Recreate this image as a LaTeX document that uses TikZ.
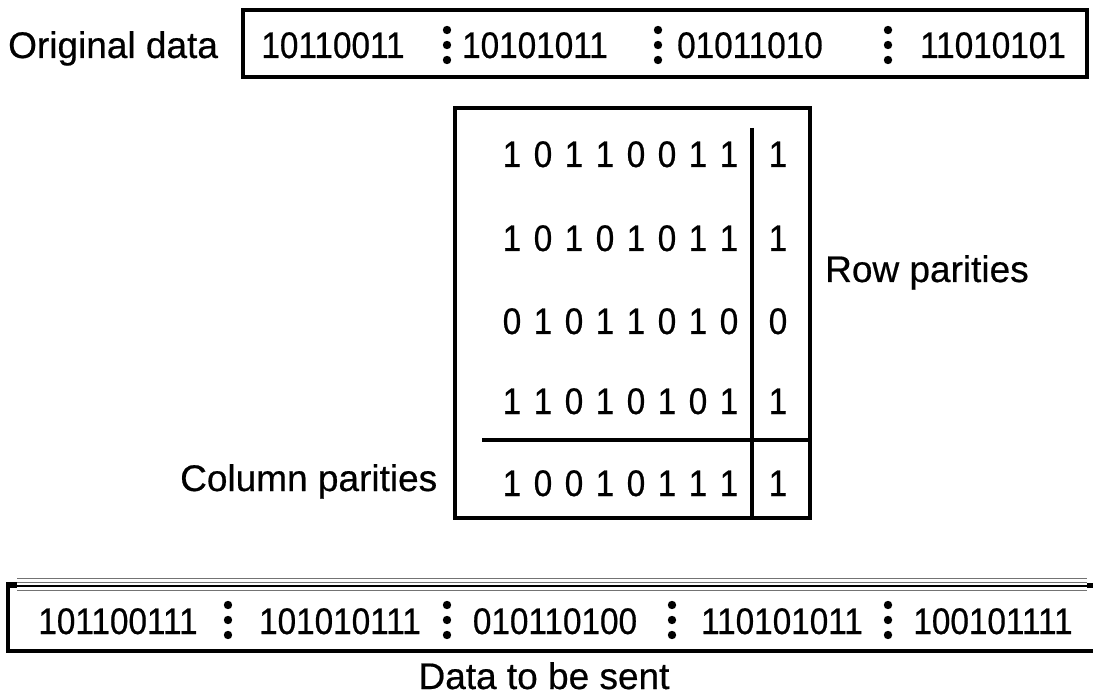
\documentclass[tikz,border=0pt]{standalone}
\usepackage{fontspec}
\setmainfont[FakeBold=0.5]{Liberation Sans}
\newfontfamily\digitfont[FakeStretch=0.9,FakeBold=0.6]{Liberation Sans}
\begin{document}
\begin{tikzpicture}[x=1pt,y=-1pt,
  lbl/.style={inner sep=0pt, anchor=base, font=\fontsize{37}{42}\selectfont},
  lblw/.style={lbl, anchor=base west},
  num/.style={inner sep=0pt, anchor=base, font=\fontsize{37}{42}\selectfont\digitfont},
  frame/.style={line width=4pt},
  thin/.style={line width=1pt, black!55}]
\useasboundingbox (0,0) rectangle (1093,695);

% three stacked dots used as group separators
\newcommand\sepdots[2]{%
  \fill (#1,#2-15) circle (4.2);
  \fill (#1,#2) circle (4.2);
  \fill (#1,#2+15) circle (4.2);}

% ---- original data ----
\node[lblw] (orig) at (8,58) {Original data};
\draw[frame] (243,10) rectangle (1087,77);
\node[num] (o1) at (333,58) {10110011};
\node[num] (o2) at (535,58) {10101011};
\node[num] (o3) at (750,58) {01011010};
\node[num] (o4) at (993,58) {11010101};
\sepdots{447}{45}
\sepdots{658}{45}
\sepdots{888}{45}

% ---- parity table ----
\draw[frame] (455,108) rectangle (810,518);
\draw[frame] (752,128) -- (752,518);
\draw[frame] (482,440) -- (810,440);
\foreach \r/\y/\bits/\p in {1/167/{1,0,1,1,0,0,1,1}/1,
                            2/251/{1,0,1,0,1,0,1,1}/1,
                            3/334/{0,1,0,1,1,0,1,0}/0,
                            4/414/{1,1,0,1,0,1,0,1}/1,
                            5/496/{1,0,0,1,0,1,1,1}/1}{
  \foreach \b [count=\i] in \bits {
    \node[num] (d\r-\i) at ({512+31*(\i-1)},\y) {\b};
  }
  \node[num] (p\r) at (778,\y) {\p};
}
\node[lblw] (rowpar) at (825,282) {Row parities};
\node[lblw] (colpar) at (180,491) {Column parities};

% ---- data to be sent ----
\draw[thin] (17,578) -- (1087,578);
\draw[thin] (17,582) -- (1087,582);
\draw[line width=1.8pt] (17,586) -- (1087,586);
\draw[thin] (17,590) -- (1087,590);
\fill (6,582) rectangle (17,588);
\fill (1087,583) rectangle (1093,588);
\draw[line width=4pt] (8,582) -- (8,651) -- (1093,651);
\node[num] (s1) at (118,634) {101100111};
\node[num] (s2) at (340,634) {101010111};
\node[num] (s3) at (555,634) {010110100};
\node[num] (s4) at (782,634) {110101011};
\node[num] (s5) at (993,634) {100101111};
\sepdots{228}{620}
\sepdots{447}{620}
\sepdots{672}{620}
\sepdots{888}{620}
\node[lbl] (sent) at (544,689) {Data to be sent};
\end{tikzpicture}
\end{document}
